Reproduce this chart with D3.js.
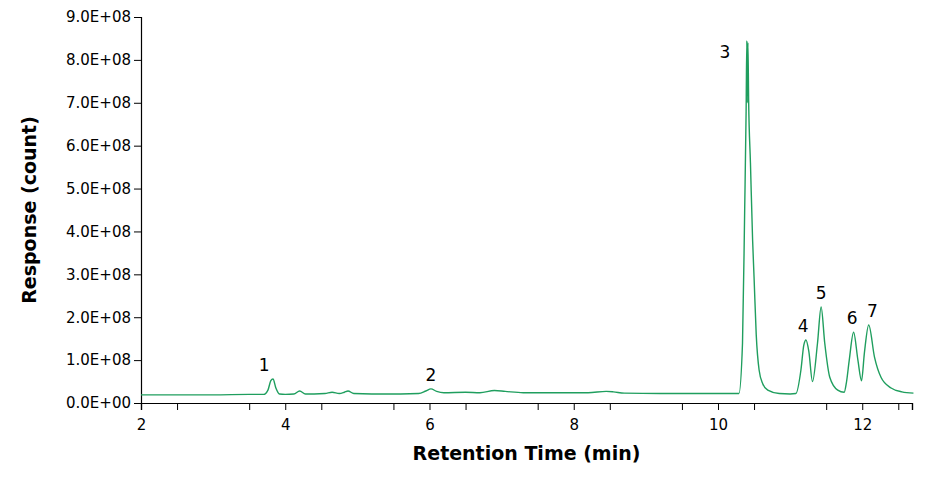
<!DOCTYPE html>
<html>
<head>
<meta charset="utf-8">
<script src="https://cdn.jsdelivr.net/npm/d3@7"></script>
<style>
  body { margin: 0; background: #fff; }
  text { font-family: "DejaVu Sans", Verdana, sans-serif; }
</style>
</head>
<body>
<div id="chart"></div>
<script>
// retention time (min) and response (units of 1E8 counts)
const rt = [2.0, 2.5, 3.0, 3.5, 3.7, 3.76, 3.8, 3.83, 3.87, 3.92, 4.0, 4.12, 4.2, 4.28, 4.4, 4.55, 4.65, 4.75, 4.82, 4.87, 4.95,
  5.2, 5.6, 5.85, 5.95, 6.02, 6.1, 6.2, 6.5, 6.7, 6.9, 7.05, 7.3, 7.8, 8.2, 8.45, 8.55, 8.7, 9.2, 9.7, 10.1, 10.29,
  10.34, 10.37, 10.39, 10.40, 10.405, 10.415, 10.425, 10.45, 10.48, 10.5, 10.53, 10.57, 10.62, 10.69, 10.85, 11.0, 11.08,
  11.15, 11.19, 11.22, 11.26, 11.31, 11.38, 11.43, 11.48, 11.55, 11.66, 11.75, 11.78, 11.82, 11.88, 11.94, 11.99,
  12.03, 12.09, 12.17, 12.26, 12.4, 12.55, 12.71];
const response = [0.19, 0.19, 0.19, 0.20, 0.20, 0.30, 0.52, 0.56, 0.35, 0.21, 0.20, 0.21, 0.28, 0.21, 0.21, 0.22, 0.25, 0.22, 0.25, 0.28, 0.22,
  0.21, 0.21, 0.22, 0.28, 0.33, 0.27, 0.24, 0.25, 0.24, 0.29, 0.27, 0.24, 0.24, 0.24, 0.27, 0.26, 0.23, 0.22, 0.22, 0.22, 0.22,
  1.4, 4.5, 6.8, 8.45, 7.0, 8.4, 7.05, 5.6, 3.8, 2.94, 1.6, 0.77, 0.45, 0.3, 0.22, 0.21, 0.22,
  0.77, 1.35, 1.47, 1.2, 0.5, 1.4, 2.24, 1.4, 0.6, 0.3, 0.25, 0.47, 1.0, 1.65, 1.0, 0.52,
  1.17, 1.82, 1.07, 0.6, 0.35, 0.26, 0.23];
const peakLabels = ['1', '2', '3', '4', '5', '6', '7'];
const peakRt = [3.82, 6.02, 10.29, 11.18, 11.43, 11.86, 12.14];
const peakVal = [0.56, 0.33, 7.85, 1.47, 2.24, 1.65, 1.82];
const yTicks = [0, 1, 2, 3, 4, 5, 6, 7, 8, 9];
const xTicks = [2, 4, 6, 8, 10, 12];

const width = 950, height = 486;
const margin = { left: 141, right: 38, top: 17, bottom: 83 };

const svg = d3.select('#chart').append('svg')
  .attr('width', width)
  .attr('height', height);

const x = d3.scaleLinear().domain([2, 12.69]).range([margin.left, width - margin.right]);
const y = d3.scaleLinear().domain([0, 9]).range([height - margin.bottom, margin.top]);

const xAxis = d3.axisBottom(x).tickValues(xTicks).tickSize(7).tickFormat(d3.format('d'));
const xMinor = d3.axisBottom(x).tickValues(d3.range(2.5, 12.7, 1)).tickSize(7).tickFormat('');
const yAxis = d3.axisLeft(y).tickValues(yTicks).tickSize(7)
  .tickFormat(d => (d === 0 ? '0.0E+00' : d.toFixed(1) + 'E+08'));

function styleAxis(g) {
  g.select('.domain').attr('stroke', '#000').attr('stroke-width', 1.2);
  g.selectAll('.tick line').attr('stroke', '#000');
  g.selectAll('.tick text').attr('font-size', 15).attr('fill', '#000');
}

svg.append('g').attr('transform', `translate(0,${y(0)})`).call(xMinor).call(styleAxis);
svg.append('g').attr('transform', `translate(0,${y(0)})`).call(xAxis).call(styleAxis)
  .selectAll('.tick text').attr('dy', '1.1em');
svg.append('g').attr('transform', `translate(${margin.left},0)`).call(yAxis).call(styleAxis);

const line = d3.line().x((d, i) => x(rt[i])).y(d => y(d)).curve(d3.curveMonotoneX);
svg.append('path')
  .datum(response)
  .attr('fill', 'none')
  .attr('stroke', '#1f9e5e')
  .attr('stroke-width', 1.4)
  .attr('d', line);

svg.selectAll('.peak')
  .data(peakLabels)
  .join('text')
  .attr('class', 'peak')
  .attr('x', (d, i) => x(peakRt[i]) - (i === 2 ? 14 : i === 0 ? 8 : 0))
  .attr('y', (d, i) => y(peakVal[i]) - 8)
  .attr('text-anchor', 'middle')
  .attr('font-size', 17)
  .text(d => d);

svg.append('text')
  .attr('x', (margin.left + width - margin.right) / 2)
  .attr('y', 460)
  .attr('text-anchor', 'middle')
  .attr('font-size', 19)
  .attr('font-weight', 'bold')
  .text('Retention Time (min)');

svg.append('text')
  .attr('transform', `translate(36,${(margin.top + height - margin.bottom) / 2}) rotate(-90)`)
  .attr('text-anchor', 'middle')
  .attr('font-size', 19)
  .attr('font-weight', 'bold')
  .text('Response (count)');
</script>
</body>
</html>
